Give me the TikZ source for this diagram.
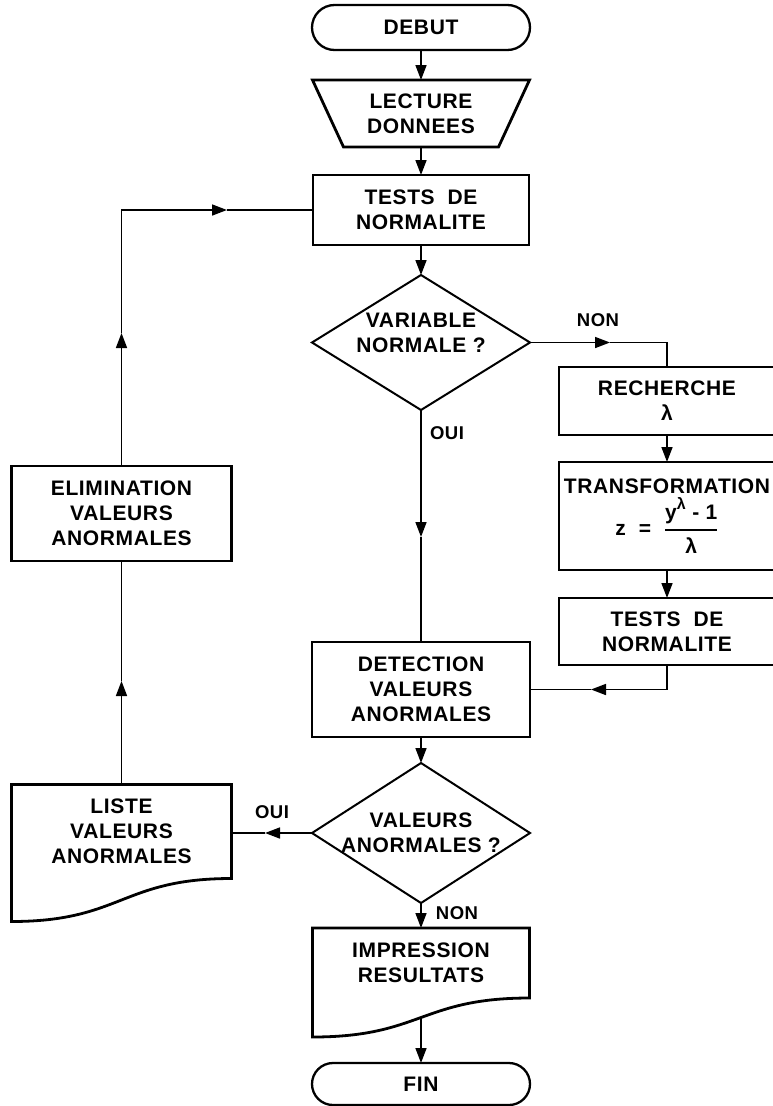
\documentclass[tikz,border=0pt]{standalone}
\usepackage{fontspec}
\usepackage{amsmath}
\setmainfont{Liberation Sans}[LetterSpace=3]
\usetikzlibrary{arrows.meta,shapes.misc,calc}
\begin{document}
\begin{tikzpicture}[x=1pt,y=-1pt,
  base/.style={font=\bfseries\fontsize{21}{25}\selectfont, align=center, inner sep=0pt, outer sep=0pt},
  procbox/.style={base, draw, line width=2.8pt},
  termbox/.style={base, draw, rounded rectangle, line width=2.3pt},
  frame/.style={base},
  outline/.style={line width=2.8pt, line join=miter},
  decision/.style={line width=2pt, line join=miter},
  conn/.style={line width=1.6pt},
  arr/.style={-{Triangle[length=15pt,width=11pt]}},
  lbl/.style={font=\bfseries\fontsize{18.5}{22}\selectfont, inner sep=0pt}
]
\useasboundingbox (0,0) rectangle (773,1106);

% main column
\node[termbox, minimum width=218pt, minimum height=45pt] (debut) at (421,27.5) {DEBUT};
\node[frame, minimum width=217pt, minimum height=67pt] (lect) at (421,113.5) {LECTURE\\DONNEES};
\draw[outline] (lect.north west) -- (lect.north east) -- ($(lect.south east)+(-31,0)$) -- ($(lect.south west)+(31,0)$) -- cycle;
\node[procbox, minimum width=216pt, minimum height=70pt] (tests) at (421,210) {TESTS~~DE\\NORMALITE};
\node[frame, minimum width=218pt, minimum height=135pt] (var) at (421,342.5) {VARIABLE\\NORMALE ?\\[-5pt]\mbox{}};
\draw[decision] (var.west) -- (var.north) -- (var.east) -- (var.south) -- cycle;
\node[procbox, minimum width=218pt, minimum height=95pt] (det) at (421,689.5) {DETECTION\\VALEURS\\ANORMALES};
\node[frame, minimum width=218pt, minimum height=140pt] (val) at (421,833) {VALEURS\\ANORMALES ?};
\draw[decision] (val.west) -- (val.north) -- (val.east) -- (val.south) -- cycle;
\node[frame, minimum width=217pt, minimum height=70pt] (imp) at (421,963) {IMPRESSION\\RESULTATS};
\draw[outline] (imp.north west) -- (imp.north east) -- (imp.south east)
  .. controls (imp.south) and ($(imp.south)+(0,39)$) .. ($(imp.south west)+(0,39)$) -- cycle;
\coordinate (impwave) at ($(imp.south)+(0,19.5)$);
\node[termbox, minimum width=218pt, minimum height=42pt] (fin) at (421,1084) {FIN};

% right column
\node[procbox, minimum width=216pt, minimum height=68pt] (rech) at (667,401) {RECHERCHE\\λ};
\node[procbox, minimum width=216pt, minimum height=108pt] (trans) at (667,516)
  {TRANSFORMATION\\[3pt]z~~=~~$\genfrac{}{}{2pt}{0}{\text{y\raisebox{0.45em}{\fontsize{16}{16}\selectfont λ}~-~1}}{\text{λ}}$};
\node[procbox, minimum width=216pt, minimum height=67pt] (tests2) at (667,631.5) {TESTS~~DE\\NORMALITE};

% left column
\node[procbox, minimum width=220pt, minimum height=95pt] (elim) at (121.5,513.5) {ELIMINATION\\VALEURS\\ANORMALES};
\node[frame, minimum width=220pt, minimum height=94pt] (liste) at (121.5,831.5) {LISTE\\VALEURS\\ANORMALES};
\draw[outline] (liste.north west) -- (liste.north east) -- (liste.south east)
  .. controls (liste.south) and ($(liste.south)+(0,43)$) .. ($(liste.south west)+(0,43)$) -- cycle;

% labels
\node[lbl] (non1) at (598,320) {NON};
\node[lbl] (oui1) at (447,433) {OUI};
\node[lbl] (oui2) at (272,812) {OUI};
\node[lbl] (non2) at (457,913) {NON};

% connectors
\draw[conn,arr] (debut.south) -- (lect.north);
\draw[conn,arr] (lect.south) -- (tests.north);
\draw[conn,arr] (tests.south) -- (var.north);

\coordinate (n1) at (610,342.5);
\draw[conn,arr] (var.east) -- (n1);
\draw[conn] (n1) -| (rech.north);
\draw[conn,arr] (rech.south) -- (trans.north);
\draw[conn,arr] (trans.south) -- (tests2.north);
\coordinate (t2) at (591,689.5);
\draw[conn,arr] (tests2.south) |- (t2);
\draw[conn] (t2) -- (det.east);

\coordinate (o1) at (421,537);
\draw[conn,arr] (var.south) -- (o1);
\draw[conn] (o1) -- (det.north);
\draw[conn,arr] (det.south) -- (val.north);

\coordinate (o2) at (265,833);
\draw[conn,arr] (val.west) -- (o2);
\draw[conn] (o2) -- (o2 -| liste.east);

\coordinate (u1) at (121.5,681);
\draw[conn,arr] (liste.north) -- (u1);
\draw[conn] (u1) -- (elim.south);

\coordinate (l1) at (121.5,333);
\coordinate (l2) at (227,210);
\draw[conn,arr] (elim.north) -- (l1);
\draw[conn,arr] (l1) |- (l2);
\draw[conn] (l2) -- (tests.west);

\draw[conn,arr] (val.south) -- (imp.north);
\draw[conn,arr] (impwave) -- (fin.north);
\end{tikzpicture}
\end{document}
